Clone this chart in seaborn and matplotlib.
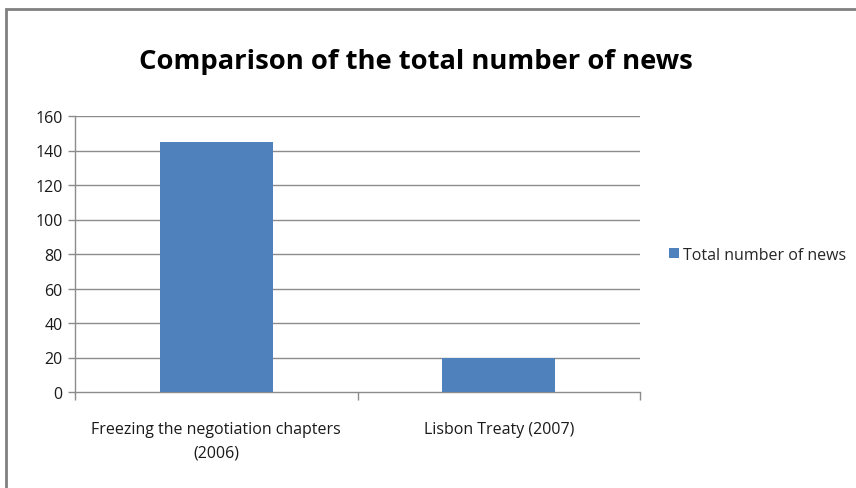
import matplotlib
matplotlib.use("Agg")
import matplotlib.pyplot as plt
from matplotlib.patches import Rectangle
import seaborn as sns
import pandas as pd

categories = ["Freezing the negotiation chapters\n(2006)", "Lisbon Treaty (2007)"]
news_counts = [145, 20]
series_name = "Total number of news"
y_ticks = [0, 20, 40, 60, 80, 100, 120, 140, 160]

df = pd.DataFrame({"category": categories, "count": news_counts, "series": series_name})

sns.set_theme(style="white")
plt.rcParams["font.family"] = ["Open Sans", "DejaVu Sans"]

W, H = 856, 489
fig = plt.figure(figsize=(W / 100, H / 100), dpi=100)
fig.patch.set_facecolor("white")

# plot area in pixel coordinates
left, right, top, bottom = 75, 640, 117, 393
ax = fig.add_axes([left / W, 1 - bottom / H, (right - left) / W, (bottom - top) / H])

bar_color = "#4f81bd"
sns.barplot(data=df, x="category", y="count", hue="series", palette=[bar_color],
            width=0.4, dodge=False, ax=ax, saturation=1, legend=True, edgecolor="none", linewidth=0)

ax.set_xlim(-0.5, 1.5)
ax.set_ylim(0, 160)
ax.set_yticks(y_ticks)
ax.set_xlabel("")
ax.set_ylabel("")

grid_color = "#8c8c8c"
for v in y_ticks[1:]:
    ax.axhline(v, color=grid_color, lw=1.0, zorder=0)
for p in ax.patches:
    p.set_zorder(3)

for s in ["top", "right"]:
    ax.spines[s].set_visible(False)
for s in ["left", "bottom"]:
    ax.spines[s].set_color(grid_color)
    ax.spines[s].set_linewidth(1.0)

ax.tick_params(axis="y", which="major", left=True, length=5, width=1, color=grid_color,
               labelsize=11.5, labelcolor="#1a1a1a", pad=4)
# category labels at centers, tick marks at category boundaries
ax.set_xticks([0, 1])
ax.set_xticklabels(categories)
for lbl in ax.get_xticklabels():
    lbl.set_linespacing(1.6)
ax.tick_params(axis="x", which="major", bottom=False, labelsize=11.5, labelcolor="#1a1a1a", pad=15)
ax.set_xticks([-0.5, 0.5, 1.5], minor=True)
ax.tick_params(axis="x", which="minor", bottom=True, length=6, width=1, color=grid_color)

leg = ax.get_legend()
leg.remove()
handle = Rectangle((0, 0), 1, 1, facecolor=bar_color, edgecolor="none")
fig.legend([handle], [series_name], loc="center left",
           bbox_to_anchor=(669 / W, 1 - 256 / H), frameon=False, fontsize=11.5,
           handlelength=0.6, handleheight=0.6, handletextpad=0.3, borderpad=0, borderaxespad=0)

fig.text(416 / W, 1 - 62 / H, "Comparison of the total number of news", ha="center", va="center",
         fontsize=19.7, fontweight="bold", color="black")

# outer chart frame
fig.patches.append(Rectangle((6 / W, -0.1), 1.2, 1 - 10 / H + 0.1, transform=fig.transFigure,
                             fill=False, edgecolor="#808080", lw=2))

fig.savefig("out.png", dpi=100, facecolor="white")
